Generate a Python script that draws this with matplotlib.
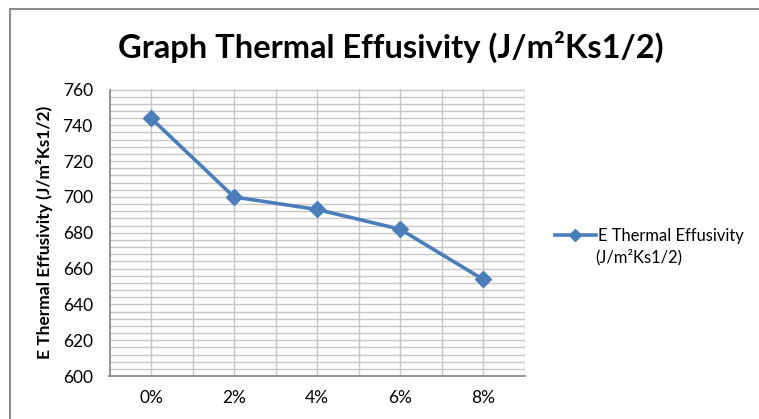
"""
Thermal effusivity line chart, styled like a spreadsheet chart.
"""

import matplotlib.pyplot as plt
from matplotlib.patches import Rectangle
from matplotlib.ticker import MultipleLocator, FixedLocator

plt.rcParams["font.family"] = ["Lato", "DejaVu Sans"]

categories = ["0%", "2%", "4%", "6%", "8%"]
effusivity = [744, 700, 693, 682, 654]
series_label = "E Thermal Effusivity"
series_unit = "(J/m²Ks1/2)"

LINE_BLUE = "#4A7EBB"
GRID_GRAY = "#C6C6C6"
AXIS_GRAY = "#8C8C8C"

fig = plt.figure(figsize=(7.59, 4.19), dpi=100)
ax = fig.add_axes([109.5 / 759, 1 - 376 / 419, 415 / 759, 286.5 / 419])

x = list(range(len(categories)))
ax.plot(
    x,
    effusivity,
    color=LINE_BLUE,
    linewidth=2.6,
    marker="D",
    markersize=8,
    label=series_label,
    zorder=3,
)

ax.set_xlim(-0.5, len(categories) - 0.5)
ax.set_ylim(600, 760)
ax.set_xticks(x)
ax.set_xticklabels(categories)
ax.xaxis.set_minor_locator(FixedLocator([i - 0.5 for i in range(len(categories) + 1)]))
ax.yaxis.set_major_locator(MultipleLocator(20))
ax.yaxis.set_minor_locator(MultipleLocator(4))

ax.grid(which="both", color=GRID_GRAY, linewidth=1.0)
ax.set_axisbelow(True)
ax.tick_params(which="both", length=0)
ax.tick_params(axis="y", pad=12, labelsize=12.5)
ax.tick_params(axis="x", pad=10, labelsize=12.5)

for side in ("top", "right"):
    ax.spines[side].set_visible(False)
for side in ("left", "bottom"):
    ax.spines[side].set_color(AXIS_GRAY)
    ax.spines[side].set_linewidth(1.3)

ax.set_ylabel("E Thermal Effusivity (J/m²Ks1/2)", fontsize=12.5, fontweight="bold", labelpad=7)

fig.text(391 / 759, 1 - 47 / 419, "Graph Thermal Effusivity (J/m²Ks1/2)",
         ha="center", va="center", fontsize=23.5, fontweight="bold")

fig.legend(
    loc="center left",
    bbox_to_anchor=(548 / 759, 1 - 236 / 419),
    frameon=False,
    fontsize=11.9,
    handlelength=2.5,
    handletextpad=0.15,
    markerscale=0.75,
    borderaxespad=0,
)
fig.text(595 / 759, 1 - 257 / 419, series_unit, ha="left", va="center", fontsize=11.9)

# outer chart frame, cut by the image edges on the right and bottom
fig.patches.append(
    Rectangle((10 / 759, -0.1), 1.2, 1.1 - 9 / 419, transform=fig.transFigure,
              fill=False, edgecolor="#8C8C8C", linewidth=1.5)
)

fig.savefig("out.png", dpi=100)
